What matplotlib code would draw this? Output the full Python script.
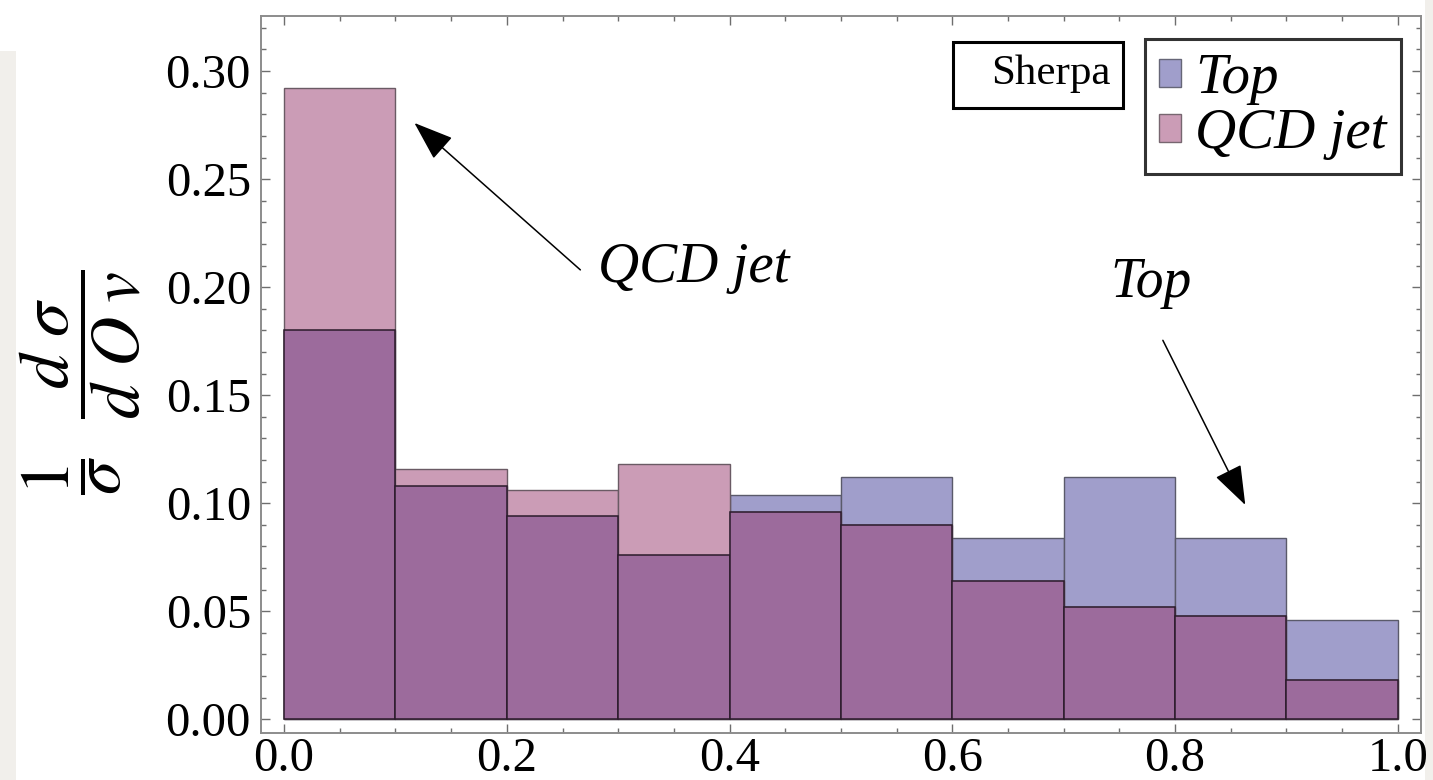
import numpy as np
import matplotlib
matplotlib.use("Agg")
import matplotlib.pyplot as plt
from matplotlib.patches import Patch, Rectangle
from matplotlib.ticker import MultipleLocator, FormatStrFormatter

plt.rcParams["font.family"] = ["Liberation Serif", "DejaVu Serif"]
plt.rcParams["mathtext.fontset"] = "stix"

# Normalised distributions of the observable Ov (10 bins on [0, 1])
bin_edges = [0.0, 0.1, 0.2, 0.3, 0.4, 0.5, 0.6, 0.7, 0.8, 0.9, 1.0]
top_vals = [0.180, 0.108, 0.094, 0.076, 0.104, 0.112, 0.084, 0.112, 0.084, 0.046]
qcd_vals = [0.292, 0.116, 0.106, 0.118, 0.096, 0.090, 0.064, 0.052, 0.048, 0.018]
series_names = ["Top", "QCD jet"]
generator_name = "Sherpa"

x_ticks = [0.0, 0.2, 0.4, 0.6, 0.8, 1.0]
y_ticks = [0.00, 0.05, 0.10, 0.15, 0.20, 0.25, 0.30]

col_top = "#a09ecb"
col_qcd = "#cb9cb6"
col_both = "#9c6b9c"

W, H, DPI = 1433, 780, 100
fig = plt.figure(figsize=(W / DPI, H / DPI), dpi=DPI)
fig.patch.set_facecolor("white")

# light paper strips at the outer edges
fig.add_artist(Rectangle((0, 0), 16 / W, 1 - 51 / H, transform=fig.transFigure,
                         facecolor="#f1efeb", edgecolor="none", zorder=0))
fig.add_artist(Rectangle((1425 / W, 0), 8 / W, 1, transform=fig.transFigure,
                         facecolor="#f1efeb", edgecolor="none", zorder=0))

ax = fig.add_axes([260.7 / W, 1 - 732.7 / H, (1420.7 - 260.7) / W, (732.7 - 16) / H])

edges = np.array(bin_edges)
lefts = edges[:-1]
widths = np.diff(edges)
top = np.array(top_vals)
qcd = np.array(qcd_vals)

ax.bar(lefts, top, width=widths, align="edge", color=col_top,
       edgecolor="#5a5a6a", linewidth=1.0, zorder=2)
ax.bar(lefts, qcd, width=widths, align="edge", color=col_qcd,
       edgecolor="#6a5a64", linewidth=1.0, zorder=3)
ax.bar(lefts, np.minimum(top, qcd), width=widths, align="edge", color=col_both,
       edgecolor="#2b1b2b", linewidth=1.1, zorder=4)

ax.set_xlim(-0.021, 1.0205)
ax.set_ylim(-0.0062, 0.3255)

ax.set_xticks(x_ticks)
ax.set_yticks(y_ticks)
ax.xaxis.set_minor_locator(MultipleLocator(0.05))
ax.yaxis.set_minor_locator(MultipleLocator(0.01))
ax.xaxis.set_major_formatter(FormatStrFormatter("%.1f"))
ax.yaxis.set_major_formatter(FormatStrFormatter("%.2f"))

for s in ax.spines.values():
    s.set_color("#8c8c8c")
    s.set_linewidth(1.4)

ax.tick_params(which="both", direction="in", top=True, right=True,
               color="#6e6e6e", width=1.0)
ax.tick_params(which="major", length=6.5)
ax.tick_params(which="minor", length=3.6)
ax.tick_params(axis="y", labelsize=35, pad=7)
ax.tick_params(axis="x", labelsize=35, pad=3)

# y-axis label
fig.text(80 / W, 1 - 382 / H,
         r"$\dfrac{1}{\sigma}\ \ \dfrac{d\ \sigma}{d\ O\;v}$",
         rotation=90, ha="center", va="center", fontsize=50)

# annotations with arrows
arrow_style = dict(arrowstyle="-|>,head_length=2.5,head_width=0.9",
                   color="black", lw=1.1, shrinkA=0, shrinkB=0)
ax.annotate("", xy=(0.117, 0.276), xytext=(0.266, 0.208),
            arrowprops=arrow_style, zorder=6)
ax.text(0.282, 0.2025, series_names[1], fontsize=41, fontstyle="italic",
        ha="left", va="baseline", zorder=6)

ax.annotate("", xy=(0.863, 0.0992), xytext=(0.789, 0.1754),
            arrowprops=arrow_style, zorder=6)
ax.text(0.742, 0.1955, series_names[0], fontsize=40, fontstyle="italic",
        ha="left", va="baseline", zorder=6)

# generator tag
fig.text(1111 / W, 1 - 74 / H, generator_name, fontsize=31, ha="right", va="center")
fig.add_artist(Rectangle((953 / W, 1 - 108 / H), (1123 - 953) / W, (108 - 42) / H,
                         transform=fig.transFigure, facecolor="none",
                         edgecolor="black", linewidth=2.2, zorder=5))

# legend
handles = [Patch(facecolor=col_top, edgecolor="#666677", linewidth=1.0),
           Patch(facecolor=col_qcd, edgecolor="#776670", linewidth=1.0)]
leg = ax.legend(handles, series_names, loc="upper right",
                bbox_to_anchor=(1401 / W, 1 - 39 / H), bbox_transform=fig.transFigure,
                prop=dict(family="Liberation Serif", style="italic", size=41),
                frameon=True, fancybox=False, borderaxespad=0,
                handlelength=0.38, handleheight=0.38, handletextpad=0.25,
                borderpad=0.25, labelspacing=0.05)
leg.get_frame().set_edgecolor("black")
leg.get_frame().set_linewidth(2.2)
leg.set_zorder(7)

fig.savefig("out.png", dpi=DPI)
